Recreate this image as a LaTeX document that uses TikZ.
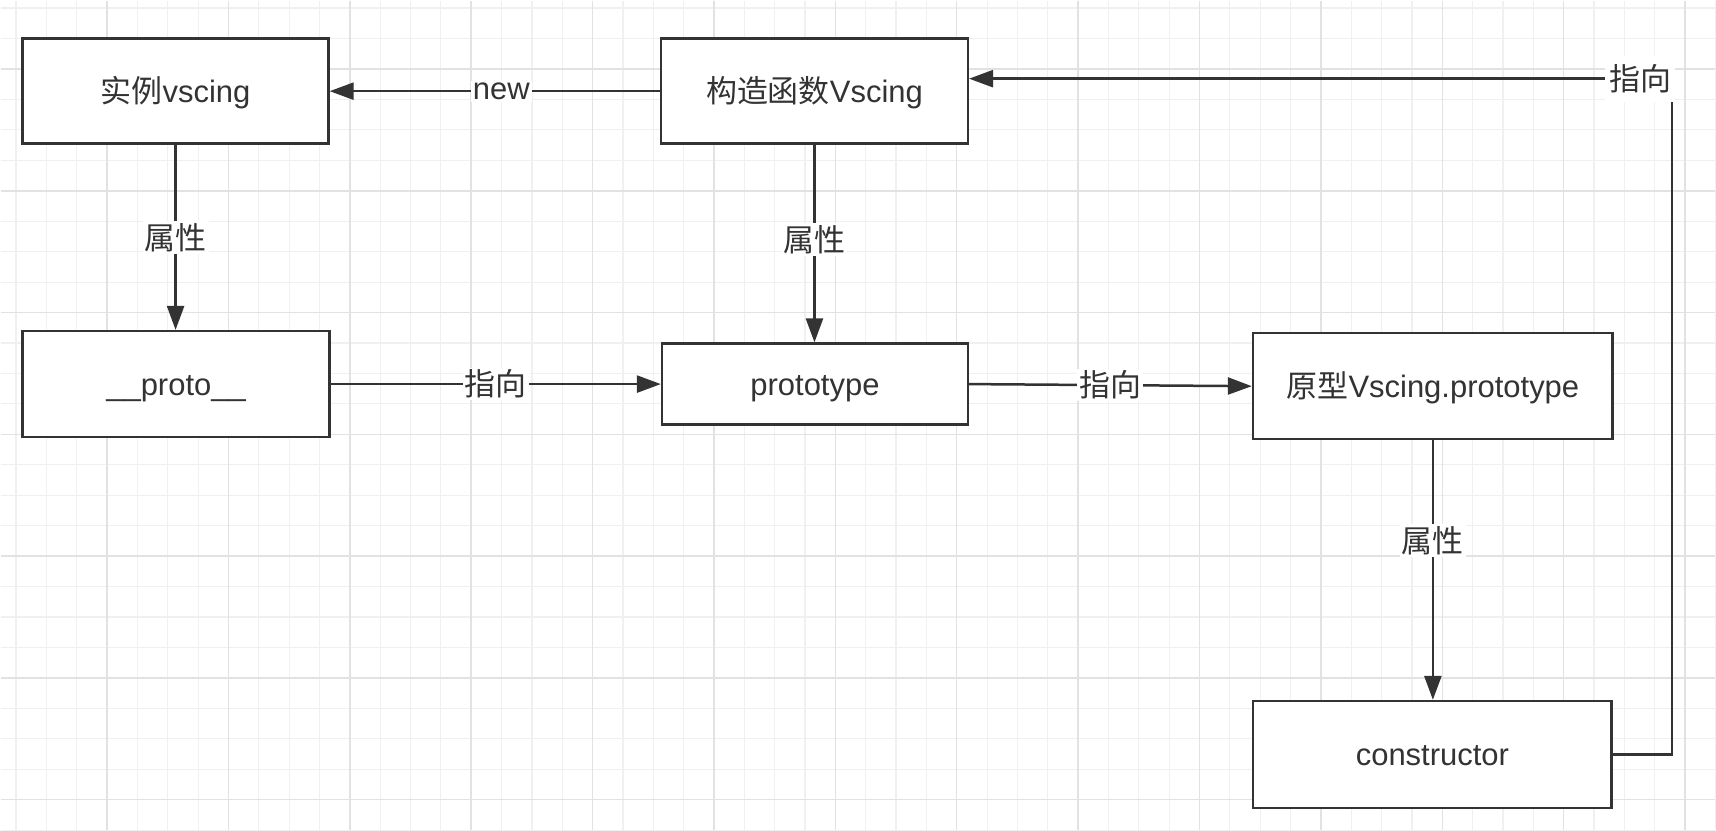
\documentclass[tikz,border=0pt]{standalone}
\usepackage{fontspec}
\setmainfont{Liberation Sans}
\newfontfamily\cjk{Noto Sans CJK SC}
\usetikzlibrary{arrows.meta}
\definecolor{ink}{HTML}{333333}
\definecolor{gridfine}{HTML}{F0F0F0}
\definecolor{gridmajor}{HTML}{E2E2E2}
\begin{document}
\begin{tikzpicture}[x=1pt,y=-1pt,
  box/.style={draw=ink, line width=2.5pt, fill=white, text=ink,
    font=\fontsize{31}{37}\selectfont, inner sep=0pt, anchor=center,
    text height=29pt, text depth=6.4pt},
  lbl/.style={fill=white, text=ink, font=\fontsize{31}{37}\selectfont\cjk, inner sep=2pt},
  conn/.style={draw=ink, line width=2.5pt, -{Triangle[length=24pt,width=17pt]}}]
\fill[white] (0,0) rectangle (1716,830);
\foreach \i in {0,...,56} {
  \draw[gridfine, line width=1.2pt] ({15.3+30.375*\i},0) -- ({15.3+30.375*\i},830);
}
\foreach \i in {0,...,27} {
  \draw[gridfine, line width=1.2pt] (0,{7.35+30.475*\i}) -- (1716,{7.35+30.475*\i});
}
\foreach \k in {0,...,13} {
  \draw[gridmajor, line width=1.5pt] ({106.4+121.5*\k},0) -- ({106.4+121.5*\k},830);
}
\foreach \k in {0,...,6} {
  \draw[gridmajor, line width=1.5pt] (0,{68.3+121.9*\k}) -- (1716,{68.3+121.9*\k});
}
\useasboundingbox (0,0) rectangle (1716,830);

\node[box, minimum width=306pt, minimum height=105pt] (b1) at (175,90.5) {{\cjk 实例}vscing};
\node[box, minimum width=307pt, minimum height=105pt] (b2) at (814.5,90.5) {{\cjk 构造函数}Vscing};
\node[box, minimum width=307pt, minimum height=106pt] (pr) at (175.5,383.7) {\_\_proto\_\_};
\node[box, minimum width=306pt, minimum height=81pt] (pt) at (815,383.7) {prototype};
\node[box, minimum width=360pt, minimum height=106pt] (yx) at (1433.5,385.8) {{\cjk 原型}Vscing.prototype};
\node[box, minimum width=359pt, minimum height=107pt] (con) at (1433,754.5) {constructor};

\coordinate (c1) at (1673,754.5);
\coordinate (c2) at (1673,78);

\draw[conn] (b2.west) -- node[lbl, pos=0.48, font=\fontsize{31}{37}\selectfont]{new} (b1.east);
\draw[conn] (b1.south) -- node[lbl]{属性} (b1.south |- pr.north);
\draw[conn] (b2.south) -- node[lbl, pos=0.48]{属性} (b2.south |- pt.north);
\draw[conn] (pr.east) -- node[lbl]{指向} (pt.west);
\draw[conn] (pt.east) -- node[lbl]{指向} (yx.west);
\draw[conn] (yx.south) -- node[lbl, pos=0.385]{属性} (yx.south |- con.north);
\draw[conn] (con.east) -- (c1) -- (c2) -- node[lbl, pos=0, xshift=-32pt, minimum height=46pt, minimum width=70pt]{指向} (b2.east |- c2);
\end{tikzpicture}
\end{document}
